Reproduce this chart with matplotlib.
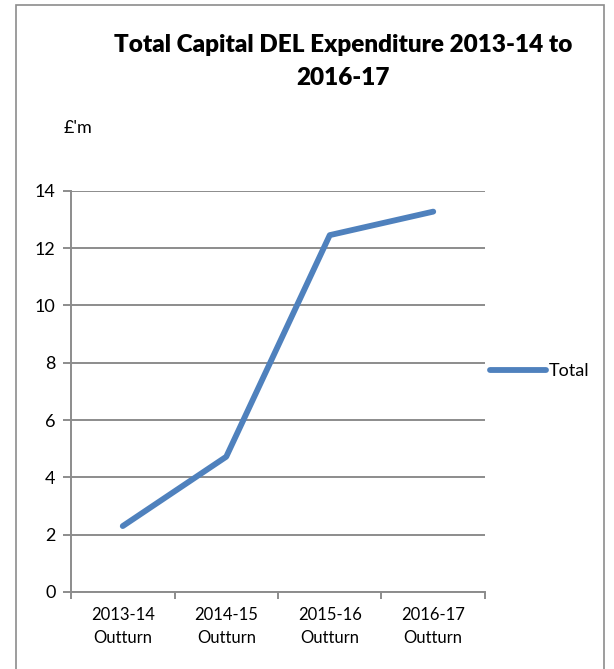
import matplotlib
matplotlib.use("Agg")
import matplotlib.pyplot as plt
from matplotlib.patches import Rectangle

plt.rcParams['font.family'] = ['Lato', 'DejaVu Sans']

categories = ["2013-14\nOutturn", "2014-15\nOutturn", "2015-16\nOutturn", "2016-17\nOutturn"]
totals = [2.30, 4.72, 12.45, 13.27]
yticks = [0, 2, 4, 6, 8, 10, 12, 14]

W, H = 614, 669
fig = plt.figure(figsize=(W / 100, H / 100), dpi=100)

# chart border
fig.add_artist(Rectangle((16 / W, -0.01), (604 - 16) / W, 1 - 5 / H + 0.01,
                         transform=fig.transFigure, fill=False,
                         edgecolor='#8c8c8c', linewidth=1.2))

ax = fig.add_axes([71 / W, 1 - 592 / H, (485 - 71) / W, (592 - 190.7) / H])
x = list(range(len(categories)))
line, = ax.plot(x, totals, color='#4F81BD', linewidth=4.2,
                solid_capstyle='round', solid_joinstyle='round', label='Total')

ax.set_xlim(-0.5, len(categories) - 0.5)
ax.set_ylim(0, 14)
ax.set_yticks(yticks)
ax.set_yticklabels([str(v) for v in yticks])
ax.yaxis.grid(True, color='#8c8c8c', linewidth=1.4)
ax.set_axisbelow(True)

# category boundary ticks, labels centred on each category
ax.set_xticks([i - 0.5 for i in range(len(categories) + 1)])
ax.set_xticklabels([])
ax.set_xticks(x, minor=True)
ax.set_xticklabels(categories, minor=True, fontsize=12, linespacing=1.5)
ax.tick_params(axis='x', which='minor', length=0, pad=11)
ax.tick_params(axis='x', which='major', length=5, width=1.4, color='#8c8c8c',
               direction='out')
ax.tick_params(axis='y', length=6, width=1.4, color='#8c8c8c', labelsize=13, pad=5)

for s in ['top', 'right']:
    ax.spines[s].set_visible(False)
ax.spines['left'].set_color('#8c8c8c')
ax.spines['left'].set_linewidth(1.4)
ax.spines['bottom'].set_color('#8c8c8c')
ax.spines['bottom'].set_linewidth(1.4)

fig.text(343 / W, 1 - 45 / H, "Total Capital DEL Expenditure 2013-14 to",
         ha='center', va='center', fontsize=17.5, fontweight='heavy')
fig.text(343 / W, 1 - 78 / H, "2016-17",
         ha='center', va='center', fontsize=17.5, fontweight='heavy')
fig.text(64 / W, 1 - 128 / H, "£'m", ha='left', va='center', fontsize=13)

fig.legend(handles=[line], loc='center left', bbox_to_anchor=(490 / W, 1 - 371 / H),
           frameon=False, fontsize=13, handlelength=3.1, handletextpad=0.15,
           borderpad=0, borderaxespad=0)

fig.savefig("out.png", dpi=100)
